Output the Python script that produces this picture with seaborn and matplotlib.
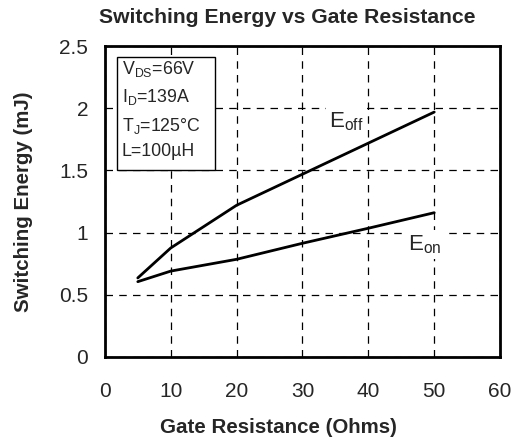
import matplotlib
matplotlib.use("agg")
import matplotlib.pyplot as plt
from matplotlib.patches import Rectangle
import pandas as pd
import seaborn as sns

# values
rg = [5, 10, 20, 30, 40, 50]
e_off = [0.635, 0.876, 1.22, 1.47, 1.72, 1.97]
e_on = [0.605, 0.69, 0.785, 0.914, 1.035, 1.16]

df = pd.DataFrame({"Rg": rg * 2,
                   "E": e_off + e_on,
                   "curve": ["Eoff"] * len(rg) + ["Eon"] * len(rg)})

sns.set_style("white")
plt.rcParams["font.family"] = ["Liberation Sans", "DejaVu Sans"]
plt.rcParams["mathtext.fontset"] = "custom"
plt.rcParams["mathtext.rm"] = "Liberation Sans"

fig = plt.figure(figsize=(5.14, 4.40), dpi=100)
ax = fig.add_axes([0.204, 0.189, 0.769, 0.706])
sns.lineplot(data=df, x="Rg", y="E", units="curve", estimator=None,
             color="black", linewidth=2, legend=False, ax=ax)

ax.set_xlim(0, 60)
ax.set_ylim(0, 2.5)
ax.set_xticks(range(0, 61, 10))
ax.set_yticks([0, 0.5, 1, 1.5, 2, 2.5])
ax.set_yticklabels(["0", "0.5", "1", "1.5", "2", "2.5"])
ax.grid(True, color="black", linestyle=(0, (6, 5)), linewidth=0.9)
for s in ax.spines.values():
    s.set_color("black")
    s.set_linewidth(2)
ax.tick_params(axis="both", direction="inout", length=10, width=1, color="black",
               labelsize=15)
ax.tick_params(axis="x", pad=13)
ax.tick_params(axis="y", pad=7)

ax.set_title("Switching Energy vs Gate Resistance", fontsize=15.2,
             fontweight="bold", pad=17, x=0.461)
ax.set_xlabel("Gate Resistance (Ohms)", fontsize=14.8, fontweight="bold")
ax.set_ylabel("Switching Energy (mJ)", fontsize=14.8, fontweight="bold")
ax.xaxis.set_label_coords(0.44, -0.196)
ax.yaxis.set_label_coords(-0.182, 0.5)

lbl_bg = dict(boxstyle="square,pad=0.15", facecolor="white", edgecolor="none")
ax.text(34.0, 1.85, r"E$_{\mathregular{off}}$", fontsize=16, va="baseline",
        bbox=lbl_bg, zorder=4)
ax.text(46.0, 0.86, r"E$_{\mathregular{on}}$", fontsize=16, va="baseline",
        bbox=lbl_bg, zorder=4)

# condition box
ax.add_patch(Rectangle((1.82, 1.503), 14.9, 0.907, facecolor="white",
                       edgecolor="black", linewidth=1, zorder=3))
box = ("V$_{\\mathregular{DS}}$=66V\n"
       "I$_{\\mathregular{D}}$=139A\n"
       "T$_{\\mathregular{J}}$=125°C\n"
       "L=100µH")
ax.text(2.6, 2.395, box, fontsize=12.8, va="top", ha="left", linespacing=1.55,
        zorder=4)

fig.savefig("out.png", dpi=100)
